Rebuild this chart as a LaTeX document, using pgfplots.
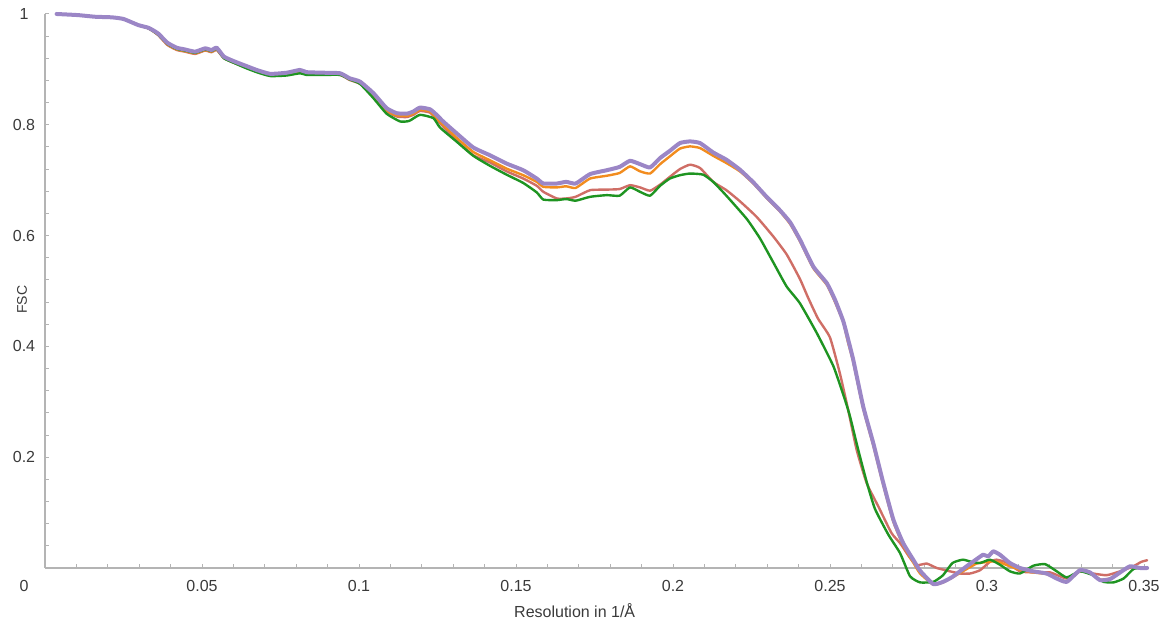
\documentclass[border=0pt]{standalone}
\usepackage{fontspec}
\setmainfont{Liberation Sans}
\usepackage{pgfplots}
\usepackage{pgfplotstable}
\pgfplotsset{compat=1.18}
\usetikzlibrary{calc}
\definecolor{fscgreen}{HTML}{1E9421}
\definecolor{fscred}{HTML}{CF6E66}
\definecolor{fscorange}{HTML}{F28C1E}
\definecolor{fscpurple}{HTML}{9B86C6}
\definecolor{axisgray}{HTML}{B4B4B4}
\definecolor{labelgray}{HTML}{3A3A3A}

\pgfplotstableread{
x y
0.0037 1.000
0.0105 0.998
0.0160 0.995
0.0212 0.994
0.0250 0.991
0.0297 0.980
0.0330 0.974
0.0360 0.962
0.0390 0.944
0.0420 0.935
0.0446 0.932
0.0478 0.928
0.0510 0.934
0.0530 0.931
0.0547 0.935
0.0570 0.920
0.0605 0.911
0.0637 0.904
0.0674 0.896
0.0717 0.889
0.0770 0.890
0.0812 0.895
0.0833 0.892
0.0886 0.891
0.0940 0.890
0.0970 0.881
0.1003 0.874
0.1046 0.852
0.1088 0.825
0.1120 0.815
0.1152 0.814
0.1173 0.818
0.1194 0.825
0.1226 0.822
0.1247 0.810
0.1268 0.797
0.1310 0.772
0.1364 0.745
0.1417 0.732
0.1470 0.716
0.1523 0.703
0.1566 0.690
0.1587 0.679
0.1630 0.667
0.1660 0.667
0.1690 0.670
0.1736 0.682
0.1789 0.683
0.1830 0.684
0.1863 0.691
0.1895 0.687
0.1927 0.681
0.1959 0.692
0.1990 0.706
0.2022 0.720
0.2054 0.728
0.2086 0.722
0.2128 0.697
0.2170 0.682
0.2213 0.662
0.2266 0.634
0.2320 0.598
0.2362 0.566
0.2404 0.522
0.2431 0.487
0.2462 0.450
0.2500 0.416
0.2532 0.350
0.2558 0.285
0.2585 0.213
0.2617 0.153
0.2654 0.111
0.2696 0.063
0.2723 0.045
0.2755 0.018
0.2776 0.005
0.2808 0.008
0.2840 0.000
0.2882 -0.006
0.2914 -0.010
0.2946 -0.010
0.2978 -0.004
0.3009 0.011
0.3030 0.015
0.3062 0.010
0.3105 -0.006
0.3147 -0.008
0.3201 -0.008
0.3254 -0.019
0.3296 -0.006
0.3338 -0.010
0.3381 -0.013
0.3424 -0.006
0.3466 0.003
0.3491 0.011
0.3510 0.014
}\redtab

\pgfplotstableread{
x y
0.0037 1.000
0.0105 0.998
0.0160 0.995
0.0212 0.994
0.0250 0.991
0.0297 0.980
0.0330 0.974
0.0360 0.963
0.0390 0.945
0.0420 0.936
0.0446 0.933
0.0478 0.929
0.0510 0.935
0.0530 0.932
0.0547 0.936
0.0570 0.921
0.0605 0.912
0.0637 0.905
0.0674 0.897
0.0717 0.890
0.0770 0.891
0.0812 0.896
0.0833 0.893
0.0886 0.892
0.0940 0.891
0.0970 0.882
0.1003 0.875
0.1046 0.853
0.1088 0.826
0.1120 0.817
0.1152 0.816
0.1173 0.820
0.1194 0.827
0.1226 0.824
0.1247 0.812
0.1268 0.800
0.1310 0.777
0.1364 0.751
0.1417 0.736
0.1470 0.721
0.1523 0.709
0.1566 0.697
0.1587 0.688
0.1630 0.687
0.1660 0.689
0.1690 0.686
0.1736 0.703
0.1789 0.708
0.1830 0.713
0.1863 0.725
0.1895 0.716
0.1927 0.712
0.1959 0.729
0.1990 0.743
0.2022 0.757
0.2054 0.761
0.2086 0.758
0.2128 0.744
0.2170 0.731
0.2213 0.716
0.2256 0.694
0.2298 0.668
0.2340 0.644
0.2373 0.621
0.2405 0.589
0.2447 0.541
0.2490 0.511
0.2516 0.480
0.2542 0.444
0.2558 0.406
0.2574 0.372
0.2606 0.287
0.2638 0.221
0.2670 0.149
0.2702 0.083
0.2733 0.041
0.2765 0.010
0.2787 -0.010
0.2829 -0.030
0.2860 -0.026
0.2890 -0.017
0.2935 -0.002
0.2967 0.008
0.2988 0.010
0.3020 0.012
0.3041 0.010
0.3073 0.003
0.3105 -0.003
0.3147 -0.008
0.3190 -0.011
0.3222 -0.019
0.3254 -0.024
0.3296 -0.006
0.3328 -0.009
0.3360 -0.021
0.3392 -0.019
0.3424 -0.008
0.3455 0.002
0.3487 0.000
0.3510 0.000
}\orangetab

\pgfplotstableread{
x y
0.0037 1.000
0.0105 0.998
0.0160 0.995
0.0212 0.994
0.0250 0.991
0.0297 0.980
0.0330 0.974
0.0360 0.963
0.0390 0.946
0.0420 0.937
0.0446 0.934
0.0478 0.930
0.0510 0.936
0.0530 0.933
0.0547 0.937
0.0570 0.920
0.0605 0.911
0.0637 0.903
0.0674 0.895
0.0717 0.888
0.0770 0.889
0.0812 0.893
0.0833 0.890
0.0886 0.890
0.0940 0.890
0.0970 0.882
0.1003 0.874
0.1046 0.848
0.1088 0.820
0.1131 0.806
0.1160 0.807
0.1194 0.818
0.1237 0.812
0.1258 0.795
0.1310 0.770
0.1364 0.744
0.1417 0.726
0.1470 0.710
0.1523 0.695
0.1566 0.678
0.1587 0.665
0.1630 0.664
0.1660 0.666
0.1690 0.663
0.1736 0.670
0.1789 0.673
0.1830 0.672
0.1863 0.687
0.1895 0.679
0.1927 0.672
0.1959 0.690
0.1990 0.703
0.2022 0.709
0.2054 0.712
0.2096 0.710
0.2128 0.697
0.2170 0.672
0.2235 0.630
0.2277 0.595
0.2320 0.551
0.2362 0.508
0.2404 0.478
0.2458 0.424
0.2511 0.364
0.2548 0.303
0.2564 0.273
0.2590 0.213
0.2617 0.155
0.2643 0.107
0.2686 0.060
0.2723 0.027
0.2755 -0.015
0.2787 -0.026
0.2829 -0.025
0.2860 -0.013
0.2890 0.009
0.2923 0.015
0.2951 0.011
0.2978 0.009
0.3009 0.015
0.3041 0.006
0.3073 -0.006
0.3105 -0.010
0.3147 0.004
0.3185 0.007
0.3222 -0.006
0.3254 -0.017
0.3296 -0.006
0.3338 -0.013
0.3371 -0.025
0.3403 -0.026
0.3435 -0.019
0.3466 -0.002
0.3487 0.000
}\greentab

\pgfplotstableread{
x y
0.0037 1.000
0.0105 0.998
0.0160 0.995
0.0212 0.994
0.0250 0.991
0.0297 0.980
0.0330 0.975
0.0360 0.965
0.0390 0.948
0.0420 0.939
0.0446 0.936
0.0478 0.932
0.0510 0.938
0.0530 0.935
0.0547 0.939
0.0570 0.923
0.0605 0.914
0.0637 0.907
0.0674 0.899
0.0717 0.892
0.0770 0.894
0.0812 0.899
0.0833 0.895
0.0886 0.894
0.0940 0.893
0.0970 0.884
0.1003 0.878
0.1046 0.857
0.1088 0.830
0.1120 0.821
0.1152 0.820
0.1173 0.824
0.1194 0.831
0.1226 0.828
0.1247 0.818
0.1268 0.806
0.1310 0.785
0.1364 0.759
0.1417 0.745
0.1470 0.730
0.1523 0.718
0.1566 0.703
0.1587 0.694
0.1630 0.694
0.1660 0.697
0.1690 0.694
0.1736 0.711
0.1789 0.718
0.1830 0.724
0.1863 0.735
0.1895 0.729
0.1927 0.723
0.1959 0.740
0.1990 0.753
0.2022 0.767
0.2054 0.770
0.2086 0.767
0.2128 0.750
0.2170 0.737
0.2213 0.719
0.2256 0.696
0.2298 0.670
0.2340 0.646
0.2373 0.624
0.2405 0.592
0.2447 0.544
0.2490 0.514
0.2516 0.484
0.2542 0.446
0.2558 0.412
0.2574 0.376
0.2606 0.291
0.2638 0.225
0.2670 0.153
0.2702 0.087
0.2733 0.045
0.2765 0.015
0.2787 -0.005
0.2829 -0.029
0.2860 -0.025
0.2890 -0.016
0.2935 0.003
0.2967 0.016
0.2988 0.024
0.3004 0.021
0.3020 0.030
0.3041 0.024
0.3073 0.009
0.3105 0.000
0.3147 -0.006
0.3190 -0.010
0.3222 -0.019
0.3254 -0.025
0.3296 -0.004
0.3328 -0.008
0.3360 -0.022
0.3392 -0.020
0.3424 -0.008
0.3455 0.003
0.3487 0.000
0.3510 0.000
}\purpletab

\begin{document}
\begin{tikzpicture}
\path[use as bounding box] (-22.5pt,-28.5pt) rectangle (559pt,284pt);
\begin{axis}[
  at={(0pt,0pt)},anchor=south west,
  scale only axis,width=549.5pt,height=277pt,
  xmin=0,xmax=0.35,ymin=0,ymax=1,clip=false,
  axis lines=left,axis line style={draw=axisgray,line width=0.6pt,-},
  xtick={0.05,0.1,0.15,0.2,0.25,0.3,0.35},
  xticklabels={0.05,0.1,0.15,0.2,0.25,0.3,0.35},
  minor xtick={0.01,0.02,0.03,0.04,0.06,0.07,0.08,0.09,0.11,0.12,0.13,0.14,0.16,0.17,0.18,0.19,0.21,0.22,0.23,0.24,0.26,0.27,0.28,0.29,0.31,0.32,0.33,0.34},
  ytick={0.2,0.4,0.6,0.8,1},
  yticklabels={0.2,0.4,0.6,0.8,1},
  minor ytick={0.04,0.08,0.12,0.16,0.24,0.28,0.32,0.36,0.44,0.48,0.52,0.56,0.64,0.68,0.72,0.76,0.84,0.88,0.92,0.96},
  tick align=inside,major tick length=2pt,minor tick length=2pt,
  tick style={draw=axisgray,line width=0.5pt},
  ticklabel style={font=\fontsize{8}{9.6}\selectfont,text=labelgray},
  xticklabel style={anchor=center,yshift=-9pt},
  yticklabel style={anchor=center,xshift=-10.5pt},
  xlabel={Resolution in 1/Å},
  xlabel style={at={(rel axis cs:0.482,0)},anchor=center,yshift=-21.5pt,font=\fontsize{8}{9.6}\selectfont,text=labelgray},
  ylabel={FSC},
  every axis y label/.style={at={($(rel axis cs:0,0.484)+(-11.5pt,0pt)$)},rotate=90,anchor=center,font=\fontsize{7}{8.4}\selectfont,text=labelgray},
  every axis plot/.append style={smooth,tension=0.3,line join=round,line cap=round},
]
\addplot[fscred,line width=1.2pt] table[x=x,y=y]{\redtab};
\addplot[fscorange,line width=1.2pt] table[x=x,y=y]{\orangetab};
\addplot[fscgreen,line width=1.2pt] table[x=x,y=y]{\greentab};
\addplot[fscpurple,line width=2pt] table[x=x,y=y]{\purpletab};
\node[font=\fontsize{8}{9.6}\selectfont,text=labelgray] at ($(rel axis cs:0,0)+(-10.5pt,-9pt)$) {0};
\end{axis}
\end{tikzpicture}
\end{document}
